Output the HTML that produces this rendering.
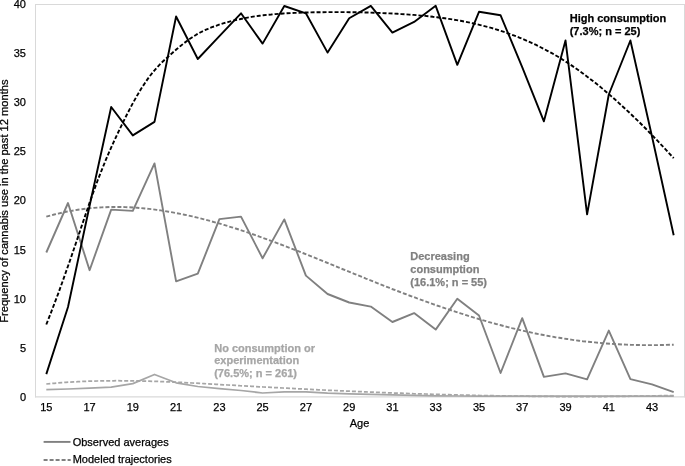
<!DOCTYPE html>
<html><head><meta charset="utf-8"><style>
html,body{margin:0;padding:0;background:#fff;}
svg{display:block;will-change:transform;font-family:"Liberation Sans",sans-serif;font-size:11px;}
text{stroke:currentColor;stroke-width:0.25px;}
</style></head><body>
<svg width="685" height="466" viewBox="0 0 685 466">
<g stroke="#d9d9d9" fill="none">
<path d="M35.5,4 V397.4 M35,4.5 H685 M684.5,4 V397.4" stroke-width="1"/>
<path d="M35,396.9 H685" stroke-width="1.2"/>
</g>
<g fill="none" stroke-linejoin="round">
<path d="M46.3,384.0 L50.3,383.6 L54.2,383.3 L58.2,382.9 L62.1,382.6 L66.0,382.4 L70.0,382.1 L73.9,381.9 L77.9,381.7 L81.8,381.5 L85.8,381.3 L89.7,381.2 L93.7,381.1 L97.6,381.0 L101.6,380.9 L105.5,380.8 L109.4,380.8 L113.4,380.8 L117.3,380.7 L121.3,380.8 L125.2,380.8 L129.2,380.8 L133.1,380.9 L137.1,380.9 L141.0,381.0 L145.0,381.1 L148.9,381.2 L152.9,381.3 L156.8,381.4 L160.7,381.6 L164.7,381.7 L168.6,381.9 L172.6,382.1 L176.5,382.2 L180.5,382.4 L184.4,382.6 L188.4,382.8 L192.3,383.0 L196.3,383.2 L200.2,383.4 L204.1,383.6 L208.1,383.9 L212.0,384.1 L216.0,384.3 L219.9,384.5 L223.9,384.8 L227.8,385.0 L231.8,385.2 L235.7,385.4 L239.7,385.7 L243.6,385.9 L247.5,386.1 L251.5,386.3 L255.4,386.6 L259.4,386.8 L263.3,387.0 L267.3,387.2 L271.2,387.4 L275.2,387.6 L279.1,387.8 L283.1,388.0 L287.0,388.2 L291.0,388.4 L294.9,388.6 L298.8,388.8 L302.8,389.0 L306.7,389.2 L310.7,389.4 L314.6,389.6 L318.6,389.8 L322.5,390.0 L326.5,390.2 L330.4,390.4 L334.4,390.5 L338.3,390.7 L342.2,390.9 L346.2,391.1 L350.1,391.2 L354.1,391.4 L358.0,391.6 L362.0,391.7 L365.9,391.9 L369.9,392.1 L373.8,392.2 L377.8,392.4 L381.7,392.5 L385.6,392.7 L389.6,392.8 L393.5,393.0 L397.5,393.1 L401.4,393.2 L405.4,393.4 L409.3,393.5 L413.3,393.7 L417.2,393.8 L421.2,393.9 L425.1,394.0 L429.0,394.2 L433.0,394.3 L436.9,394.4 L440.9,394.5 L444.8,394.6 L448.8,394.7 L452.7,394.8 L456.7,394.9 L460.6,395.0 L464.6,395.1 L468.5,395.2 L472.5,395.3 L476.4,395.4 L480.3,395.5 L484.3,395.6 L488.2,395.6 L492.2,395.7 L496.1,395.8 L500.1,395.8 L504.0,395.9 L508.0,396.0 L511.9,396.0 L515.9,396.1 L519.8,396.1 L523.7,396.2 L527.7,396.2 L531.6,396.3 L535.6,396.3 L539.5,396.4 L543.5,396.4 L547.4,396.4 L551.4,396.4 L555.3,396.5 L559.3,396.5 L563.2,396.5 L567.1,396.5 L571.1,396.5 L575.0,396.5 L579.0,396.5 L582.9,396.5 L586.9,396.5 L590.8,396.5 L594.8,396.5 L598.7,396.5 L602.7,396.5 L606.6,396.5 L610.6,396.4 L614.5,396.4 L618.4,396.4 L622.4,396.3 L626.3,396.3 L630.3,396.2 L634.2,396.2 L638.2,396.1 L642.1,396.1 L646.1,396.0 L650.0,396.0 L654.0,395.9 L657.9,395.8 L661.8,395.7 L665.8,395.7 L669.7,395.6 L673.7,395.5" stroke="#a6a6a6" stroke-width="1.75" stroke-dasharray="4 2"/>
<path d="M46.3,389.7 L68.0,389.0 L89.6,388.1 L111.2,387.1 L132.8,383.6 L154.5,374.5 L176.1,382.8 L197.8,386.5 L219.4,388.6 L241.0,390.5 L262.6,393.0 L284.3,391.8 L305.9,391.8 L327.6,393.2 L349.2,393.8 L370.8,394.3 L392.4,394.8 L414.1,395.4 L435.7,395.8 L457.3,396.0 L479.0,396.2 L500.6,396.2 L522.2,396.2 L543.9,396.2 L565.5,396.2 L587.1,396.2 L608.8,396.2 L630.4,396.2 L652.0,396.2 L673.7,396.2" stroke="#a6a6a6" stroke-width="1.75"/>
<path d="M46.3,216.7 L50.3,215.6 L54.2,214.5 L58.2,213.6 L62.1,212.7 L66.0,211.8 L70.0,211.1 L73.9,210.4 L77.9,209.7 L81.8,209.2 L85.8,208.7 L89.7,208.3 L93.7,207.9 L97.6,207.6 L101.6,207.4 L105.5,207.2 L109.4,207.0 L113.4,207.0 L117.3,207.0 L121.3,207.0 L125.2,207.1 L129.2,207.3 L133.1,207.5 L137.1,207.8 L141.0,208.1 L145.0,208.5 L148.9,208.9 L152.9,209.3 L156.8,209.9 L160.7,210.4 L164.7,211.0 L168.6,211.7 L172.6,212.4 L176.5,213.1 L180.5,213.9 L184.4,214.7 L188.4,215.5 L192.3,216.4 L196.3,217.4 L200.2,218.3 L204.1,219.3 L208.1,220.4 L212.0,221.5 L216.0,222.6 L219.9,223.7 L223.9,224.9 L227.8,226.1 L231.8,227.3 L235.7,228.5 L239.7,229.8 L243.6,231.1 L247.5,232.4 L251.5,233.8 L255.4,235.2 L259.4,236.6 L263.3,238.0 L267.3,239.4 L271.2,240.9 L275.2,242.3 L279.1,243.8 L283.1,245.3 L287.0,246.8 L291.0,248.4 L294.9,249.9 L298.8,251.4 L302.8,253.0 L306.7,254.6 L310.7,256.2 L314.6,257.7 L318.6,259.3 L322.5,260.9 L326.5,262.5 L330.4,264.1 L334.4,265.7 L338.3,267.4 L342.2,269.0 L346.2,270.6 L350.1,272.2 L354.1,273.8 L358.0,275.4 L362.0,277.0 L365.9,278.6 L369.9,280.1 L373.8,281.7 L377.8,283.3 L381.7,284.8 L385.6,286.4 L389.6,287.9 L393.5,289.5 L397.5,291.0 L401.4,292.5 L405.4,294.0 L409.3,295.5 L413.3,296.9 L417.2,298.4 L421.2,299.8 L425.1,301.3 L429.0,302.7 L433.0,304.1 L436.9,305.5 L440.9,306.8 L444.8,308.2 L448.8,309.5 L452.7,310.8 L456.7,312.1 L460.6,313.4 L464.6,314.6 L468.5,315.9 L472.5,317.1 L476.4,318.3 L480.3,319.5 L484.3,320.6 L488.2,321.8 L492.2,322.9 L496.1,324.0 L500.1,325.0 L504.0,326.1 L508.0,327.1 L511.9,328.1 L515.9,329.0 L519.8,330.0 L523.7,330.9 L527.7,331.8 L531.6,332.6 L535.6,333.5 L539.5,334.3 L543.5,335.0 L547.4,335.8 L551.4,336.5 L555.3,337.2 L559.3,337.8 L563.2,338.4 L567.1,339.0 L571.1,339.6 L575.0,340.2 L579.0,340.7 L582.9,341.2 L586.9,341.6 L590.8,342.0 L594.8,342.4 L598.7,342.8 L602.7,343.2 L606.6,343.5 L610.6,343.8 L614.5,344.0 L618.4,344.2 L622.4,344.5 L626.3,344.6 L630.3,344.8 L634.2,344.9 L638.2,345.0 L642.1,345.1 L646.1,345.1 L650.0,345.1 L654.0,345.1 L657.9,345.1 L661.8,345.0 L665.8,344.9 L669.7,344.8 L673.7,344.7" stroke="#808080" stroke-width="1.9" stroke-dasharray="4 2"/>
<path d="M46.3,252.5 L68.0,203.0 L89.6,270.2 L111.2,209.6 L132.8,210.9 L154.5,163.4 L176.1,281.4 L197.8,273.7 L219.4,219.1 L241.0,216.6 L262.6,258.3 L284.3,219.4 L305.9,275.6 L327.6,294.0 L349.2,302.5 L370.8,306.6 L392.4,322.0 L414.1,313.1 L435.7,329.6 L457.3,298.8 L479.0,315.5 L500.6,373.0 L522.2,318.2 L543.9,376.9 L565.5,373.4 L587.1,379.3 L608.8,330.6 L630.4,379.2 L652.0,384.4 L673.7,392.1" stroke="#808080" stroke-width="1.9"/>
<path d="M46.3,324.5 L50.3,314.4 L54.2,304.1 L58.2,293.6 L62.1,282.8 L66.0,271.7 L70.0,260.5 L73.9,249.0 L77.9,237.3 L81.8,225.6 L85.8,213.9 L89.7,202.4 L93.7,191.2 L97.6,180.5 L101.6,170.4 L105.5,160.7 L109.4,151.5 L113.4,142.7 L117.3,134.2 L121.3,125.9 L125.2,117.9 L129.2,110.1 L133.1,102.7 L137.1,95.6 L141.0,89.0 L145.0,82.9 L148.9,77.3 L152.9,72.2 L156.8,67.7 L160.7,63.6 L164.7,59.8 L168.6,56.2 L172.6,52.7 L176.5,49.3 L180.5,46.0 L184.4,42.9 L188.4,39.9 L192.3,37.2 L196.3,34.7 L200.2,32.5 L204.1,30.5 L208.1,28.8 L212.0,27.2 L216.0,25.8 L219.9,24.4 L223.9,23.2 L227.8,22.1 L231.8,21.0 L235.7,20.0 L239.7,19.2 L243.6,18.3 L247.5,17.6 L251.5,16.9 L255.4,16.3 L259.4,15.8 L263.3,15.3 L267.3,14.8 L271.2,14.5 L275.2,14.1 L279.1,13.8 L283.1,13.5 L287.0,13.3 L291.0,13.1 L294.9,12.9 L298.8,12.8 L302.8,12.6 L306.7,12.5 L310.7,12.4 L314.6,12.3 L318.6,12.2 L322.5,12.2 L326.5,12.1 L330.4,12.1 L334.4,12.1 L338.3,12.1 L342.2,12.1 L346.2,12.1 L350.1,12.2 L354.1,12.3 L358.0,12.3 L362.0,12.4 L365.9,12.5 L369.9,12.6 L373.8,12.8 L377.8,12.9 L381.7,13.1 L385.6,13.2 L389.6,13.4 L393.5,13.6 L397.5,13.8 L401.4,14.1 L405.4,14.3 L409.3,14.6 L413.3,14.9 L417.2,15.2 L421.2,15.6 L425.1,15.9 L429.0,16.3 L433.0,16.8 L436.9,17.2 L440.9,17.8 L444.8,18.3 L448.8,18.9 L452.7,19.5 L456.7,20.1 L460.6,20.8 L464.6,21.6 L468.5,22.4 L472.5,23.2 L476.4,24.1 L480.3,25.1 L484.3,26.1 L488.2,27.1 L492.2,28.2 L496.1,29.4 L500.1,30.6 L504.0,31.9 L508.0,33.3 L511.9,34.7 L515.9,36.2 L519.8,37.8 L523.7,39.4 L527.7,41.1 L531.6,42.9 L535.6,44.7 L539.5,46.7 L543.5,48.7 L547.4,50.8 L551.4,52.9 L555.3,55.2 L559.3,57.5 L563.2,60.0 L567.1,62.5 L571.1,65.1 L575.0,67.8 L579.0,70.6 L582.9,73.4 L586.9,76.4 L590.8,79.4 L594.8,82.5 L598.7,85.6 L602.7,88.9 L606.6,92.2 L610.6,95.6 L614.5,99.0 L618.4,102.6 L622.4,106.2 L626.3,109.8 L630.3,113.5 L634.2,117.3 L638.2,121.1 L642.1,125.0 L646.1,129.0 L650.0,133.0 L654.0,137.1 L657.9,141.2 L661.8,145.4 L665.8,149.6 L669.7,153.9 L673.7,158.2" stroke="#000" stroke-width="1.9" stroke-dasharray="4 2"/>
<path d="M46.3,374.1 L68.0,307.0 L89.6,205.7 L111.2,107.0 L132.8,135.4 L154.5,121.9 L176.1,16.5 L197.8,59.0 L219.4,36.2 L241.0,13.3 L262.6,43.6 L284.3,6.0 L305.9,13.3 L327.6,52.6 L349.2,18.3 L370.8,5.9 L392.4,32.6 L414.1,21.9 L435.7,5.8 L457.3,64.8 L479.0,11.8 L500.6,15.3 L522.2,67.2 L543.9,121.3 L565.5,40.4 L587.1,214.4 L608.8,94.5 L630.4,40.5 L652.0,136.5 L673.7,235.3" stroke="#000" stroke-width="1.9"/>
</g>
<g fill="#000" color="#000"><text x="26" y="400.8" text-anchor="end">0</text><text x="26" y="351.7" text-anchor="end">5</text><text x="26" y="302.6" text-anchor="end">10</text><text x="26" y="253.5" text-anchor="end">15</text><text x="26" y="204.3" text-anchor="end">20</text><text x="26" y="155.2" text-anchor="end">25</text><text x="26" y="106.1" text-anchor="end">30</text><text x="26" y="57.0" text-anchor="end">35</text><text x="26" y="7.9" text-anchor="end">40</text><text x="46.3" y="411" text-anchor="middle">15</text><text x="89.6" y="411" text-anchor="middle">17</text><text x="132.8" y="411" text-anchor="middle">19</text><text x="176.1" y="411" text-anchor="middle">21</text><text x="219.4" y="411" text-anchor="middle">23</text><text x="262.6" y="411" text-anchor="middle">25</text><text x="305.9" y="411" text-anchor="middle">27</text><text x="349.2" y="411" text-anchor="middle">29</text><text x="392.4" y="411" text-anchor="middle">31</text><text x="435.7" y="411" text-anchor="middle">33</text><text x="479.0" y="411" text-anchor="middle">35</text><text x="522.2" y="411" text-anchor="middle">37</text><text x="565.5" y="411" text-anchor="middle">39</text><text x="608.8" y="411" text-anchor="middle">41</text><text x="652.0" y="411" text-anchor="middle">43</text>
<text x="359.5" y="426.9" text-anchor="middle">Age</text>
<text transform="translate(7.6,201.1) rotate(-90)" text-anchor="middle" font-size="11.15">Frequency of cannabis use in the past 12 months</text>
</g>
<g font-weight="bold">
<text x="569.7" y="21.7" fill="#000" color="#000">High consumption</text>
<text x="569.7" y="35.1" fill="#000" color="#000">(7.3%; n = 25)</text>
<text x="410.3" y="260.1" fill="#808080" color="#808080">Decreasing</text>
<text x="410.3" y="272.8" fill="#808080" color="#808080">consumption</text>
<text x="410.3" y="285.5" fill="#808080" color="#808080">(16.1%; n = 55)</text>
<text x="214.2" y="351.7" fill="#a6a6a6" color="#a6a6a6">No consumption or</text>
<text x="214.2" y="364.4" fill="#a6a6a6" color="#a6a6a6">experimentation</text>
<text x="214.2" y="377.1" fill="#a6a6a6" color="#a6a6a6">(76.5%; n = 261)</text>
</g>
<line x1="43.6" y1="441.9" x2="70.5" y2="441.9" stroke="#808080" stroke-width="1.9"/>
<line x1="43.6" y1="460" x2="70.7" y2="460" stroke="#808080" stroke-width="1.9" stroke-dasharray="4 2"/>
<text x="72.7" y="445.5" color="#000">Observed averages</text>
<text x="72.7" y="463.1" color="#000">Modeled trajectories</text>
</svg>
</body></html>
